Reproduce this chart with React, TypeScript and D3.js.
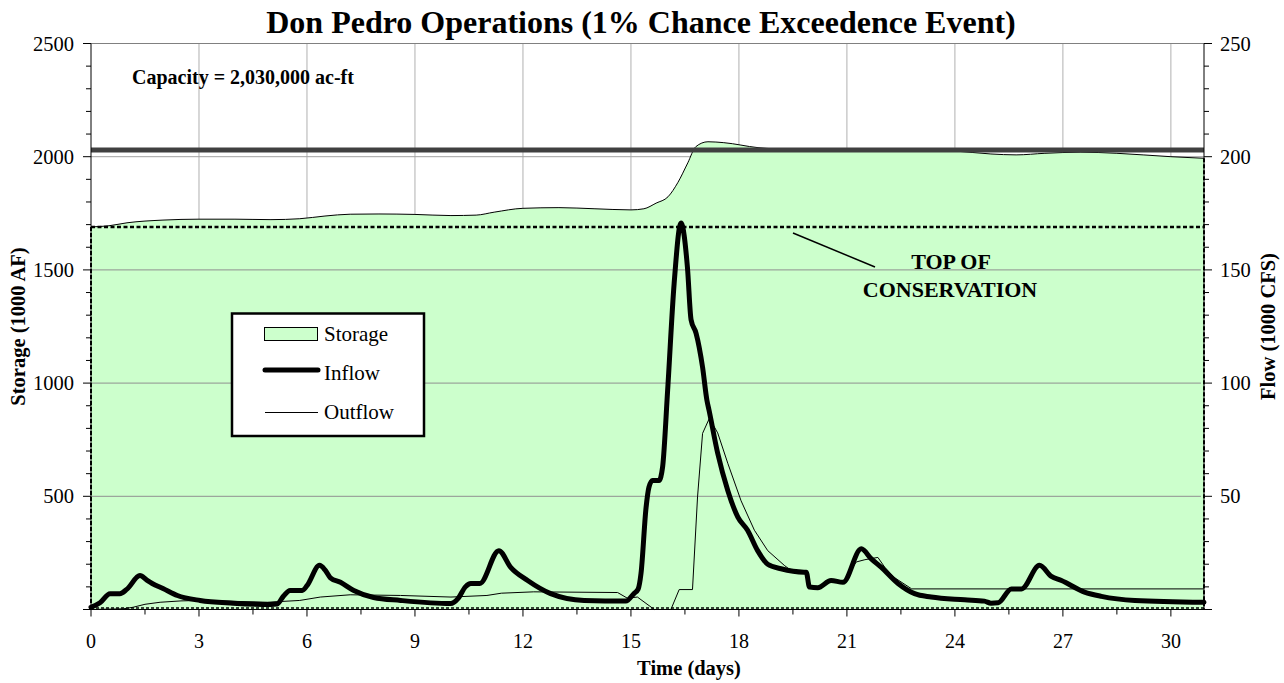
import React from "react";
import { scaleLinear, line, area, curveMonotoneX, curveLinear, range } from "d3";

// storage (1000 AF), left axis
const storageDays = [0, 0.5, 1, 2, 3, 4, 5, 5.8, 6.5, 7.2, 8, 9, 10, 10.7, 11.2, 12, 13, 14, 15, 15.36, 15.7, 16.03, 16.3, 16.58, 16.8, 17.14, 17.58, 18.53, 19.5, 21, 23, 24, 25, 25.7, 26.5, 27.5, 28.5, 30, 30.92];
const storageValues = [1690, 1695, 1708, 1720, 1724, 1724, 1722, 1726, 1738, 1746, 1747, 1745, 1740, 1742, 1755, 1772, 1775, 1770, 1765, 1770, 1795, 1823, 1885, 1973, 2044, 2066, 2062, 2040, 2032, 2030, 2030, 2025, 2012, 2008, 2015, 2020, 2015, 2000, 1993];

// inflow (1000 CFS), right axis
const inflowDays = [0, 0.25, 0.53, 0.8, 1.0, 1.36, 1.55, 1.7, 2.0, 2.4, 3.03, 3.95, 5.0, 5.17, 5.35, 5.53, 5.87, 6.0, 6.35, 6.5, 6.65, 6.93, 7.3, 7.85, 8.6, 9.99, 10.2, 10.4, 10.55, 10.8, 11.33, 11.66, 12.13, 12.77, 13.7, 14.86, 15.08, 15.2, 15.28, 15.42, 15.5, 15.6, 15.78, 15.88, 16.02, 16.2, 16.39, 16.57, 16.67, 16.81, 16.99, 17.11, 17.17, 17.41, 17.69, 17.97, 18.24, 18.52, 18.8, 19.17, 19.81, 19.87, 19.96, 20.19, 20.56, 20.89, 21.4, 21.67, 21.95, 22.42, 22.88, 23.34, 24.27, 24.82, 25.0, 25.2, 25.57, 25.85, 26.35, 26.68, 26.96, 27.6, 28.07, 29, 30.92];
const inflowValues = [1, 3, 7, 7, 9, 15, 13, 11.5, 9.3, 6.2, 4, 2.8, 2.2, 2.4, 6, 8.4, 8.4, 10.5, 19.5, 17.5, 14, 12, 8.4, 5.3, 4, 2.6, 4.9, 10, 11.5, 11.5, 26, 18.6, 12.8, 7, 4, 3.7, 7, 9, 16, 45, 54, 57, 57, 63, 97, 144, 170.7, 151, 128, 122, 107, 92.5, 88, 69, 52.6, 40.8, 35, 26, 20, 18, 16.5, 16.5, 9.9, 9.6, 12.8, 12, 26.8, 22.5, 18.7, 11.5, 7, 5.5, 4.3, 3.7, 2.8, 3, 9.1, 9.1, 19.5, 14.6, 12.8, 7.7, 5.8, 4, 3.2];

// outflow (1000 CFS), right axis
const outflowDays = [0, 0.9, 1.17, 1.5, 1.92, 2.5, 3.03, 4, 4.9, 5.8, 6.37, 7.2, 8.6, 10, 11, 11.4, 12.3, 14.63, 14.9, 15.18, 15.65, 16.11, 16.34, 16.71, 16.85, 16.99, 17.18, 17.41, 17.69, 18.06, 18.43, 18.8, 19.26, 19.4, 19.81, 19.87, 19.96, 20.19, 20.56, 20.89, 21.26, 21.5, 21.86, 22.05, 22.3, 22.8, 30.92];
const outflowValues = [0, 0.3, 1, 2.3, 3.2, 3.8, 4, 3.6, 3.2, 4, 5.5, 6.5, 6.2, 5.5, 6.2, 7.2, 7.8, 7.5, 5, 5.5, 0, 0, 8.8, 8.8, 49.7, 77.8, 84.5, 78, 64.6, 48, 35, 26, 19.5, 17.8, 16.5, 16.5, 9.9, 9.6, 12.8, 12, 21, 22, 23, 18.7, 14.3, 9.1, 9.1];

const capacity = 2030;
const topOfConservation = 1690;
const xTicks = [0, 3, 6, 9, 12, 15, 18, 21, 24, 27, 30];
const storageTicks = [500, 1000, 1500, 2000, 2500];
const flowTicks = [50, 100, 150, 200, 250];

const W = 1284;
const H = 683;
const left = 91;
const right = 1204;
const top = 43.5;
const bottom = 609.5;
const font = "'Liberation Serif', 'Times New Roman', serif";
const green = "#ccffcc";

const App: React.FC = () => {
    const x = scaleLinear().domain([0, 30.92]).range([left, right]);
    const yS = scaleLinear().domain([0, 2500]).range([bottom, top]);
    const yF = scaleLinear().domain([0, 250]).range([bottom, top]);

    const storagePts = storageDays.map((d, i) => [d, storageValues[i]] as [number, number]);
    const inflowPts = inflowDays.map((d, i) => [d, inflowValues[i]] as [number, number]);
    const outflowPts = outflowDays.map((d, i) => [d, outflowValues[i]] as [number, number]);

    const storageArea = area<[number, number]>()
        .x(d => x(d[0]))
        .y0(yS(0))
        .y1(d => yS(d[1]))
        .curve(curveMonotoneX);
    const storageTop = line<[number, number]>()
        .x(d => x(d[0]))
        .y(d => yS(d[1]))
        .curve(curveMonotoneX);
    const flowLine = line<[number, number]>()
        .x(d => x(d[0]))
        .y(d => yF(d[1]))
        .curve(curveMonotoneX);
    const outLine = line<[number, number]>()
        .x(d => x(d[0]))
        .y(d => yF(d[1]))
        .curve(curveLinear);

    const minorY = range(0, 2501, 100);
    const minorF = range(0, 251, 10);
    const minorX = range(0, 30.92, 1.5);

    return (
        <svg width={W} height={H} style={{ position: "absolute", left: 0, top: 0, fontFamily: font }}>
            <rect x={0} y={0} width={W} height={H} fill="#fff" />
            <text x={641} y={33} textAnchor="middle" fontSize={32} fontWeight="bold">
                Don Pedro Operations (1% Chance Exceedence Event)
            </text>

            {/* vertical grid (behind storage) */}
            {xTicks.filter(t => t > 0).map(t => (
                <line key={"vg" + t} x1={x(t)} x2={x(t)} y1={top} y2={bottom} stroke="#b0b0b0" strokeWidth={1} />
            ))}
            <line x1={left} x2={right} y1={yS(2000)} y2={yS(2000)} stroke="#a0a0a0" />
            <line x1={left} x2={right} y1={top} y2={top} stroke="#808080" />

            {/* storage */}
            <path d={storageArea(storagePts) || ""} fill={green} />
            <path d={storageTop(storagePts) || ""} fill="none" stroke="#000" strokeWidth={1} />

            {/* horizontal grid over storage */}
            {storageTicks.filter(t => t < 2000).map(t => (
                <line key={"hg" + t} x1={left} x2={right - 3} y1={yS(t)} y2={yS(t)} stroke="#909090" strokeWidth={1} />
            ))}

            {/* capacity */}
            <line x1={left} x2={right} y1={yS(capacity)} y2={yS(capacity)} stroke="#404040" strokeWidth={5} />

            {/* top of conservation */}
            <line x1={left} x2={right} y1={yS(topOfConservation)} y2={yS(topOfConservation)} stroke="#000" strokeWidth={2.5} strokeDasharray="4,2.5" />

            {/* flows */}
            <path d={outLine(outflowPts) || ""} fill="none" stroke="#000" strokeWidth={1} />
            <path d={flowLine(inflowPts) || ""} fill="none" stroke="#000" strokeWidth={5} strokeLinejoin="round" strokeLinecap="round" />

            {/* axes */}
            <line x1={left} x2={left} y1={top} y2={bottom} stroke="#000" strokeWidth={1} />
            <line x1={left} x2={left} y1={yS(topOfConservation)} y2={bottom} stroke="#000" strokeWidth={2} strokeDasharray="4,2" />
            <line x1={right} x2={right} y1={top} y2={bottom} stroke="#000" strokeWidth={1} />
            <line x1={right} x2={right} y1={yS(storageValues[storageValues.length - 1])} y2={bottom} stroke="#000" strokeWidth={2} strokeDasharray="4,2" />
            <line x1={left} x2={right} y1={bottom - 1.5} y2={bottom - 1.5} stroke="#000" strokeWidth={1.5} strokeDasharray="3,2" />
            <line x1={left} x2={right} y1={bottom} y2={bottom} stroke="#000" strokeWidth={1} />

            {minorY.map(t => (
                <line key={"my" + t} x1={left - (t % 500 === 0 ? 8 : 5)} x2={left} y1={yS(t)} y2={yS(t)} stroke="#000" />
            ))}
            {storageTicks.map(t => (
                <text key={"ly" + t} x={left - 17} y={yS(t) + 7} textAnchor="end" fontSize={20.5}>{t}</text>
            ))}
            {minorF.map(t => (
                <line key={"mf" + t} x1={right} x2={right + (t % 50 === 0 ? 8 : 5)} y1={yF(t)} y2={yF(t)} stroke="#000" />
            ))}
            {flowTicks.map(t => (
                <text key={"lf" + t} x={right + 16} y={yF(t) + 7} textAnchor="start" fontSize={20.5}>{t}</text>
            ))}
            {minorX.map(t => (
                <line key={"mx" + t} x1={x(t)} x2={x(t)} y1={bottom} y2={bottom + (t % 3 === 0 ? 7 : 5)} stroke="#000" />
            ))}
            {xTicks.map(t => (
                <text key={"lx" + t} x={x(t)} y={648} textAnchor="middle" fontSize={20}>{t}</text>
            ))}

            <text x={689} y={675} textAnchor="middle" fontSize={20.5} fontWeight="bold">Time (days)</text>
            <text transform={`translate(25,${(top + bottom) / 2}) rotate(-90)`} textAnchor="middle" fontSize={20.5} fontWeight="bold">
                Storage (1000 AF)
            </text>
            <text transform={`translate(1275,${(top + bottom) / 2}) rotate(-90)`} textAnchor="middle" fontSize={20.5} fontWeight="bold">
                Flow (1000 CFS)
            </text>

            <text x={132} y={84} fontSize={20} fontWeight="bold">Capacity = 2,030,000 ac-ft</text>

            {/* annotation */}
            <line x1={793} y1={233} x2={875} y2={267} stroke="#000" strokeWidth={1.5} />
            <text x={951} y={269} textAnchor="middle" fontSize={22} fontWeight="bold">TOP OF</text>
            <text x={950} y={297} textAnchor="middle" fontSize={22} fontWeight="bold">CONSERVATION</text>

            {/* legend */}
            <rect x={232} y={313.5} width={192} height={122.5} fill="#fff" stroke="#000" strokeWidth={2.5} />
            <rect x={264.5} y={327.5} width={53} height={13} fill={green} stroke="#000" strokeWidth={1} />
            <text x={324} y={341} fontSize={21}>Storage</text>
            <line x1={265} x2={318} y1={370} y2={370} stroke="#000" strokeWidth={5} strokeLinecap="round" />
            <text x={324} y={380} fontSize={21}>Inflow</text>
            <line x1={265} x2={318} y1={412.5} y2={412.5} stroke="#000" strokeWidth={1} />
            <text x={324} y={419} fontSize={21}>Outflow</text>
        </svg>
    );
};

export default App;
